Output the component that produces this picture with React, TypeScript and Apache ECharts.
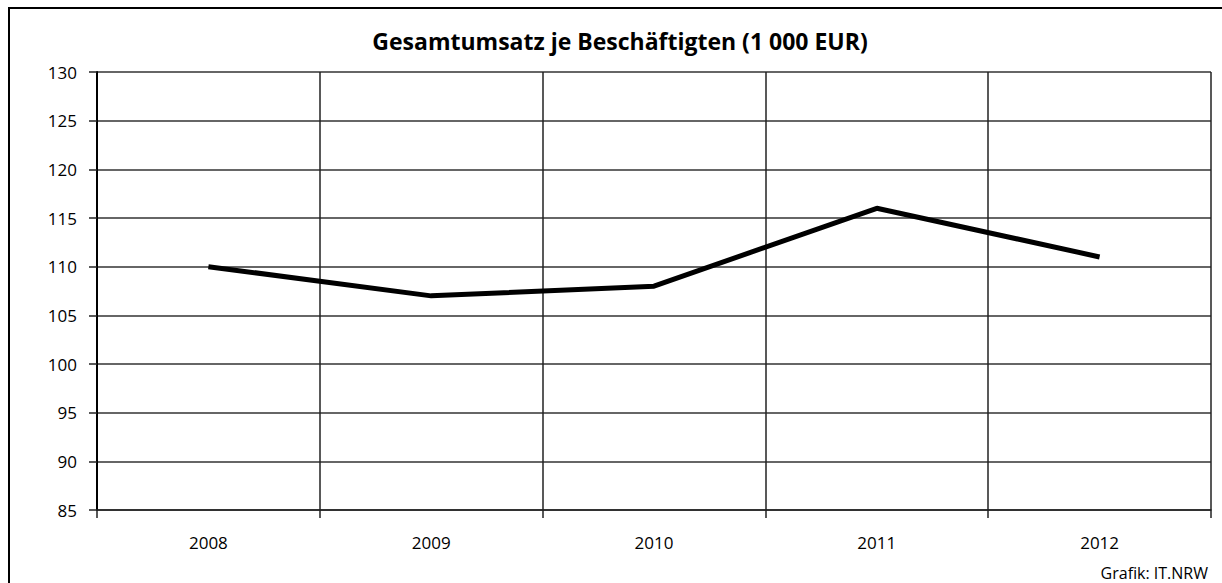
import React, { useEffect, useRef } from "react";
import * as echarts from "echarts";

const years = ["2008", "2009", "2010", "2011", "2012"];
const umsatz = [110, 107, 108, 116, 111];
const titleText = "Gesamtumsatz je Beschäftigten (1 000 EUR)";
const sourceText = "Grafik: IT.NRW";

const FONT = "'Open Sans', 'Noto Sans', sans-serif";

export default function App() {
  const ref = useRef<HTMLDivElement>(null);
  useEffect(() => {
    if (!ref.current) return;
    const chart = echarts.init(ref.current, undefined, { renderer: "svg" });
    chart.setOption({
      animation: false,
      backgroundColor: "#fff",
      title: {
        text: titleText,
        left: 615,
        textAlign: "center",
        top: 24,
        textStyle: { fontFamily: FONT, fontSize: 23, fontWeight: "bold", color: "#000" },
      },
      grid: { left: 97, top: 72, right: 11, bottom: 73 },
      xAxis: {
        type: "category",
        data: years,
        boundaryGap: true,
        axisLine: { show: true, lineStyle: { color: "#222", width: 1.5 } },
        axisTick: { show: true, length: 8, lineStyle: { color: "#222", width: 1.5 } },
        axisLabel: { margin: 24, fontFamily: FONT, fontSize: 17, color: "#000" },
        splitLine: { show: true, lineStyle: { color: "#222", width: 1.5 } },
      },
      yAxis: {
        type: "value",
        min: 85,
        max: 130,
        interval: 5,
        axisLine: { show: true, lineStyle: { color: "#000", width: 2 } },
        axisTick: { show: true, length: 8, lineStyle: { color: "#222", width: 1.5 } },
        axisLabel: { margin: 20, fontFamily: FONT, fontSize: 17, color: "#000" },
        splitLine: { show: true, lineStyle: { color: "#333", width: 1.5 } },
      },
      graphic: [
        {
          type: "rect",
          shape: { x: 9, y: 8, width: 1300, height: 700 },
          style: { fill: "none", stroke: "#000", lineWidth: 2 },
          silent: true,
        },
        {
          type: "text",
          x: 1208,
          y: 573,
          style: {
            text: sourceText,
            align: "right",
            verticalAlign: "middle",
            fontFamily: FONT,
            fontSize: 16,
            fill: "#000",
          },
        },
      ],
      series: [
        {
          type: "line",
          data: umsatz,
          symbol: "none",
          lineStyle: { color: "#000", width: 5 },
        },
      ],
    });
    return () => chart.dispose();
  }, []);
  return (
    <div
      ref={ref}
      style={{ position: "absolute", left: 0, top: 0, width: 1222, height: 583 }}
    />
  );
}
